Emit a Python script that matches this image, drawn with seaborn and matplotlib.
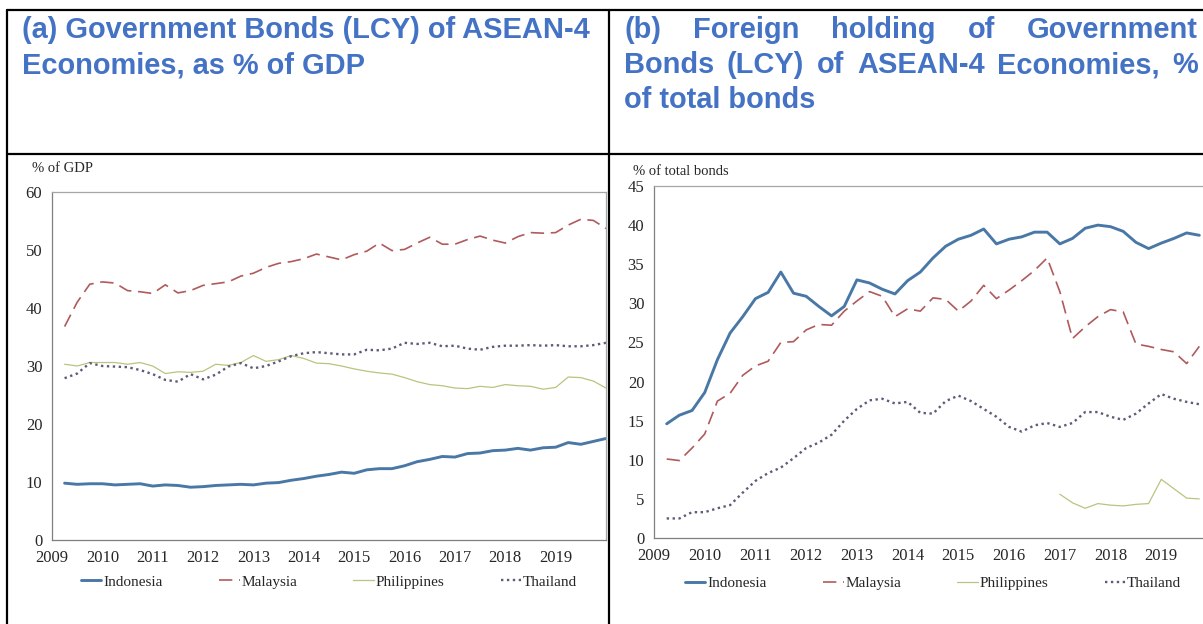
import numpy as np
import pandas as pd
import seaborn as sns
import matplotlib.pyplot as plt
from matplotlib.lines import Line2D

# quarterly observations, 2009Q1 .. 2019Q4 (plotted at quarter end)
quarters = np.arange(2009.25, 2020.01, 0.25)

# (a) government bonds, % of GDP
gdp_indonesia = [9.8, 9.6, 9.7, 9.7, 9.5, 9.6, 9.7, 9.3, 9.5, 9.4, 9.1, 9.2,
                 9.4, 9.5, 9.6, 9.5, 9.8, 9.9, 10.3, 10.6, 11.0, 11.3, 11.7, 11.5,
                 12.1, 12.3, 12.3, 12.8, 13.5, 13.9, 14.4, 14.3, 14.9, 15.0, 15.4, 15.5,
                 15.8, 15.5, 15.9, 16.0, 16.8, 16.5, 17.0, 17.5]
gdp_malaysia = [36.8, 41.0, 44.1, 44.5, 44.3, 43.0, 42.8, 42.5, 44.0, 42.6, 43.0, 43.9,
                44.2, 44.5, 45.5, 46.0, 47.0, 47.7, 48.0, 48.5, 49.3, 48.8, 48.3, 49.2,
                49.8, 51.2, 49.9, 50.1, 51.2, 52.2, 51.0, 51.0, 51.8, 52.4, 51.7, 51.2,
                52.3, 53.0, 52.9, 53.0, 54.3, 55.3, 55.1, 53.7]
gdp_philippines = [30.3, 30.0, 30.6, 30.6, 30.6, 30.3, 30.6, 30.0, 28.7, 29.0, 28.9, 29.1,
                   30.3, 30.1, 30.6, 31.8, 30.8, 31.1, 31.8, 31.3, 30.5, 30.4, 30.0, 29.5,
                   29.1, 28.8, 28.6, 28.0, 27.3, 26.8, 26.6, 26.2, 26.1, 26.5, 26.3, 26.8,
                   26.6, 26.5, 26.0, 26.3, 28.1, 28.0, 27.4, 26.2]
gdp_thailand = [27.9, 28.7, 30.5, 30.0, 29.9, 29.8, 29.3, 28.6, 27.6, 27.3, 28.6, 27.7,
                28.5, 29.9, 30.5, 29.6, 30.0, 30.8, 31.7, 32.2, 32.4, 32.2, 32.0, 32.0,
                32.8, 32.7, 33.0, 34.0, 33.8, 34.0, 33.4, 33.5, 33.0, 32.8, 33.3, 33.5,
                33.5, 33.6, 33.5, 33.6, 33.4, 33.4, 33.6, 34.0]

# (b) foreign holding, % of total bonds (visible part runs to 2019Q3)
fh_indonesia = [14.6, 15.7, 16.3, 18.6, 22.8, 26.2, 28.3, 30.6, 31.4, 34.0, 31.3, 30.9,
                29.6, 28.4, 29.6, 33.0, 32.6, 31.8, 31.2, 32.9, 34.0, 35.8, 37.3, 38.2,
                38.7, 39.5, 37.6, 38.2, 38.5, 39.1, 39.1, 37.6, 38.3, 39.6, 40.0, 39.8,
                39.2, 37.8, 37.0, 37.7, 38.3, 39.0, 38.7]
fh_malaysia = [10.1, 9.9, 11.5, 13.3, 17.5, 18.5, 20.8, 22.0, 22.6, 25.0, 25.1, 26.6,
               27.3, 27.2, 29.0, 30.3, 31.5, 30.9, 28.3, 29.3, 29.0, 30.7, 30.5, 29.0,
               30.3, 32.3, 30.6, 31.7, 32.9, 34.2, 35.8, 31.5, 25.5, 27.0, 28.3, 29.2,
               28.9, 24.8, 24.5, 24.1, 23.8, 22.3, 24.5]
fh_philippines = [np.nan] * 31 + [5.6, 4.5, 3.8, 4.4, 4.2, 4.1, 4.3, 4.4, 7.5, 6.3, 5.1, 5.0]
fh_thailand = [2.5, 2.5, 3.3, 3.3, 3.8, 4.2, 5.8, 7.3, 8.3, 9.0, 10.2, 11.5,
               12.2, 13.2, 15.0, 16.5, 17.6, 17.8, 17.2, 17.4, 16.0, 15.9, 17.5, 18.2,
               17.5, 16.5, 15.5, 14.2, 13.6, 14.4, 14.7, 14.2, 14.7, 16.1, 16.1, 15.5,
               15.1, 15.9, 17.2, 18.4, 17.8, 17.4, 17.1]

countries = ["Indonesia", "Malaysia", "Philippines", "Thailand"]
styles = {
    "Indonesia": dict(color="#4a78a6", lw=2.1, ls="-"),
    "Malaysia": dict(color="#b05a5c", lw=1.2, ls=(0, (8, 4))),
    "Philippines": dict(color="#b9c47e", lw=0.9, ls="-"),
    "Thailand": dict(color="#5e5a78", lw=1.7, ls=(0, (1, 1.5))),
}

sns.set_style("white")
plt.rcParams["font.family"] = ["Liberation Serif", "DejaVu Serif"]

W, H = 1203, 624
fig = plt.figure(figsize=(W / 100, H / 100), dpi=100)


def px_axes(x0, y_top, x1, y_bot):
    return fig.add_axes([x0 / W, (H - y_bot) / H, (x1 - x0) / W, (y_bot - y_top) / H])


def draw_panel(ax, data, x, ymax, ystep):
    for name in countries:
        df = pd.DataFrame({"x": x[:len(data[name])], "y": data[name]})
        st = styles[name]
        sns.lineplot(data=df, x="x", y="y", ax=ax, color=st["color"], lw=st["lw"],
                     linestyle=st["ls"], label=name)
    ax.set_xlim(2009, 2020)
    ax.set_ylim(0, ymax)
    ax.set_xticks(range(2009, 2020))
    ax.set_yticks(np.arange(0, ymax + 0.1, ystep))
    ax.set_yticklabels([f"{v:g}" for v in np.arange(0, ymax + 0.1, ystep)])
    ax.set_xlabel("")
    ax.set_ylabel("")
    for side, sp in ax.spines.items():
        sp.set_visible(True)
        sp.set_linewidth(0.9)
        sp.set_color("#7f7f7f" if side in ("left", "bottom") else "#a6a6a6")
    ax.tick_params(direction="out", length=4, width=0.8, color="#7f7f7f",
                   labelsize=12, labelcolor="#262626", pad=3)
    ax.tick_params(axis="x", pad=3)


ax1 = px_axes(52, 192, 606, 540)
draw_panel(ax1, dict(zip(countries, [gdp_indonesia, gdp_malaysia, gdp_philippines, gdp_thailand])),
           quarters, 60, 10)
ax2 = px_axes(654, 186, 1212, 538)
draw_panel(ax2, dict(zip(countries, [fh_indonesia, fh_malaysia, fh_philippines, fh_thailand])),
           quarters, 45, 5)

for ax, ly in ((ax1, -0.12), (ax2, -0.128)):
    ax.legend(loc="center", bbox_to_anchor=(0.5, ly), ncol=4, frameon=False,
              fontsize=11, handlelength=1.35, handletextpad=0.1, columnspacing=3.7)

fig.text(32 / W, 1 - 172 / H, "% of GDP", fontsize=10.5, va="baseline", color="#262626")
fig.text(633 / W, 1 - 175 / H, "% of total bonds", fontsize=10.5, va="baseline", color="#262626")

# header cells
title_kw = dict(fontsize=20.9, fontweight="bold", color="#4472c4", va="baseline",
                family=["Liberation Sans", "DejaVu Sans"])
renderer = fig.canvas.get_renderer()


def header_line(text, x0, y, x1=None):
    words = text.split()
    if x1 is None:
        fig.text(x0 / W, 1 - y / H, text, **title_kw)
        return
    items = [fig.text(0, 1 - y / H, w, **title_kw) for w in words]
    widths = [t.get_window_extent(renderer).width for t in items]
    gap = (x1 - x0 - sum(widths)) / (len(items) - 1)
    pos = x0
    for t, w in zip(items, widths):
        t.set_x(pos / W)
        pos += w + gap


header_line("(a) Government Bonds (LCY) of ASEAN-4", 22, 38)
header_line("Economies, as % of GDP", 22, 73)
header_line("(b) Foreign holding of Government", 624, 38, 1198)
header_line("Bonds (LCY) of ASEAN-4 Economies, %", 624, 73, 1198)
header_line("of total bonds", 624, 108)

# table borders
border = dict(color="black", lw=1.6, transform=fig.transFigure)
for xs, ys in [((7, W), (10, 10)), ((7, W), (154, 154)),
               ((7, 7), (10, H)), ((609, 609), (10, H))]:
    fig.add_artist(Line2D([x / W for x in xs], [1 - y / H for y in ys], **border))

fig.savefig("out.png", dpi=100)
